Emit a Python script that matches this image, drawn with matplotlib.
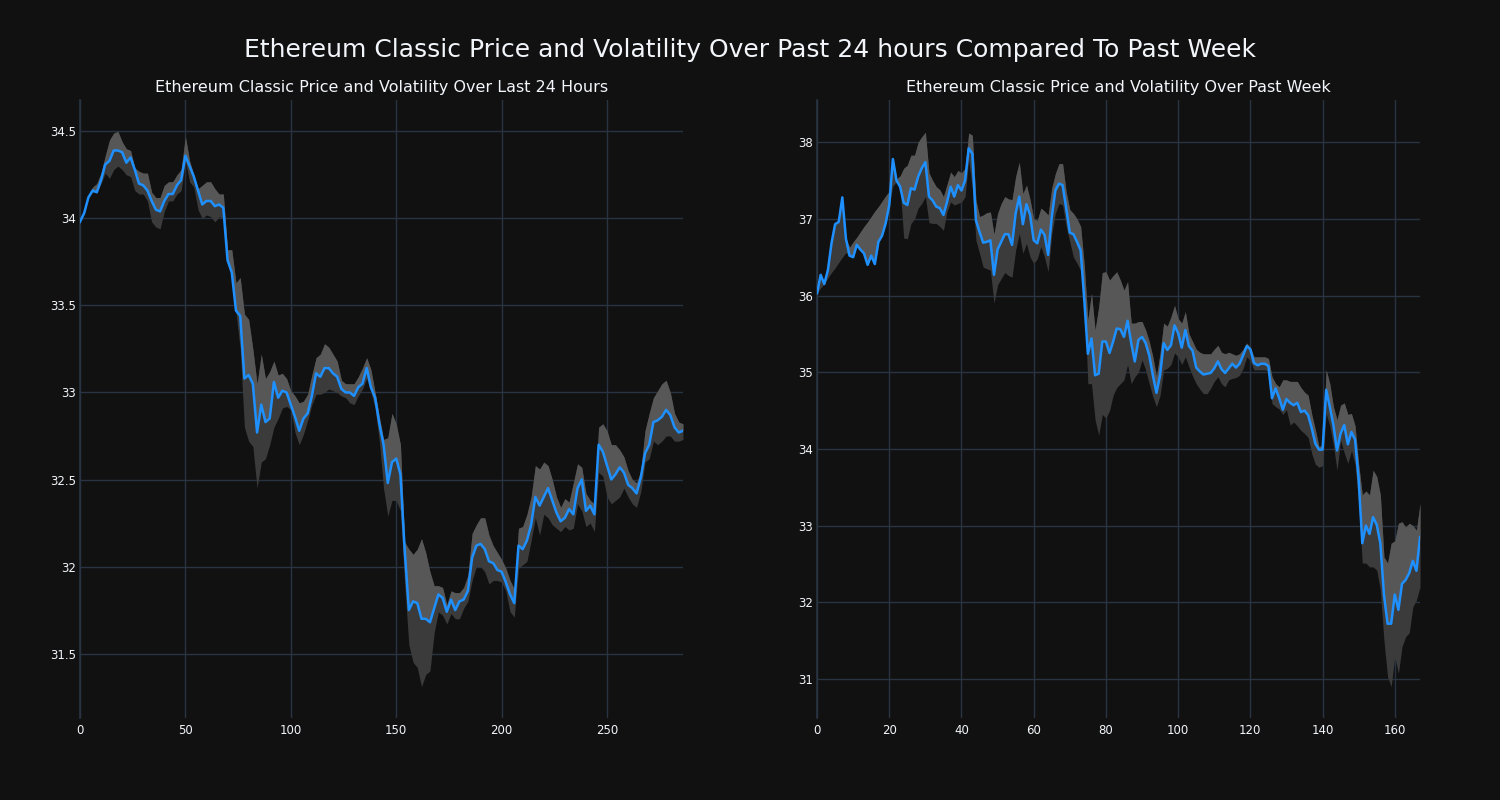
import numpy as np
import matplotlib
matplotlib.use("Agg")
import matplotlib.pyplot as plt
from matplotlib.ticker import FuncFormatter

# last 24 hours, sampled every 2nd 5-minute step
day_x = np.arange(0, 288, 2)
day_price = [
    33.98, 34.03, 34.12, 34.16, 34.15, 34.22, 34.31, 34.33, 34.39, 34.39,
    34.38, 34.32, 34.35, 34.28, 34.20, 34.19, 34.16, 34.10, 34.05, 34.04,
    34.10, 34.14, 34.14, 34.19, 34.22, 34.36, 34.30, 34.24, 34.16, 34.08,
    34.10, 34.10, 34.07, 34.08, 34.06, 33.76, 33.69, 33.47, 33.44, 33.08,
    33.10, 33.05, 32.77, 32.93, 32.83, 32.85, 33.06, 32.97, 33.01, 33.00,
    32.93, 32.86, 32.78, 32.85, 32.88, 32.98, 33.11, 33.09, 33.14, 33.14,
    33.11, 33.09, 33.02, 33.00, 33.00, 32.98, 33.03, 33.05, 33.14, 33.03,
    32.97, 32.82, 32.70, 32.48, 32.60, 32.62, 32.53, 32.10, 31.75, 31.80,
    31.79, 31.70, 31.70, 31.68, 31.76, 31.84, 31.82, 31.74, 31.81, 31.75,
    31.80, 31.81, 31.86, 32.05, 32.12, 32.13, 32.10, 32.03, 32.02, 31.98,
    31.97, 31.91, 31.84, 31.79, 32.12, 32.10, 32.15, 32.24, 32.40, 32.35,
    32.40, 32.45, 32.38, 32.31, 32.26, 32.28, 32.33, 32.30, 32.45, 32.50,
    32.32, 32.35, 32.30, 32.70, 32.66, 32.58, 32.50, 32.53, 32.57, 32.54,
    32.47, 32.45, 32.42, 32.51, 32.65, 32.70, 32.83, 32.84, 32.86, 32.90,
    32.87, 32.80, 32.77, 32.78,
]
day_upper = [
    33.98, 34.03, 34.13, 34.18, 34.20, 34.26, 34.36, 34.45, 34.49, 34.50,
    34.44, 34.40, 34.39, 34.29, 34.27, 34.26, 34.26, 34.15, 34.12, 34.12,
    34.19, 34.21, 34.21, 34.25, 34.28, 34.47, 34.33, 34.25, 34.17, 34.19,
    34.21, 34.21, 34.17, 34.14, 34.14, 33.82, 33.82, 33.63, 33.66, 33.45,
    33.42, 33.25, 33.05, 33.22, 33.08, 33.12, 33.18, 33.10, 33.11, 33.08,
    33.01, 32.98, 32.94, 32.95, 32.99, 33.10, 33.20, 33.22, 33.28, 33.26,
    33.22, 33.18, 33.07, 33.05, 33.05, 33.05, 33.09, 33.14, 33.20, 33.13,
    33.00, 32.86, 32.73, 32.74, 32.88, 32.82, 32.70, 32.14, 32.10, 32.07,
    32.10, 32.16, 32.08, 31.97, 31.89, 31.89, 31.88, 31.78, 31.86, 31.85,
    31.85, 31.88, 31.95, 32.19, 32.24, 32.28, 32.28, 32.18, 32.12, 32.08,
    32.04, 31.99, 31.92, 31.87, 32.22, 32.23, 32.30, 32.40, 32.58, 32.56,
    32.60, 32.58, 32.50, 32.40, 32.34, 32.39, 32.37, 32.48, 32.59, 32.57,
    32.42, 32.38, 32.36, 32.80, 32.82, 32.78, 32.70, 32.70, 32.67, 32.63,
    32.55, 32.50, 32.48, 32.55, 32.78, 32.88, 32.97, 33.01, 33.05, 33.07,
    33.00, 32.88, 32.83, 32.82,
]
day_lower = [
    33.98, 34.03, 34.12, 34.15, 34.15, 34.20, 34.26, 34.23, 34.28, 34.30,
    34.28, 34.25, 34.24, 34.16, 34.14, 34.14, 34.10, 33.98, 33.95, 33.94,
    34.04, 34.10, 34.10, 34.14, 34.16, 34.33, 34.21, 34.18, 34.05, 34.00,
    34.02, 34.01, 33.98, 34.01, 34.00, 33.74, 33.66, 33.46, 33.25, 32.80,
    32.72, 32.69, 32.45, 32.60, 32.62, 32.70, 32.80, 32.85, 32.91, 32.92,
    32.90, 32.77, 32.70, 32.76, 32.84, 32.93, 32.99, 32.99, 33.00, 33.02,
    33.01, 33.00, 32.98, 32.97, 32.94, 32.93, 32.98, 33.02, 33.08, 33.00,
    32.91, 32.72, 32.45, 32.29, 32.38, 32.38, 32.32, 31.90, 31.55, 31.45,
    31.42, 31.31, 31.38, 31.40, 31.62, 31.74, 31.72, 31.67, 31.73, 31.70,
    31.70, 31.76, 31.80, 31.92, 32.00, 32.00, 31.97, 31.90, 31.92, 31.92,
    31.91, 31.86, 31.74, 31.71, 31.99, 32.01, 32.03, 32.15, 32.28, 32.18,
    32.30, 32.28, 32.24, 32.22, 32.20, 32.23, 32.21, 32.22, 32.36, 32.32,
    32.23, 32.25, 32.20, 32.54, 32.52, 32.40, 32.36, 32.38, 32.40, 32.45,
    32.40, 32.36, 32.34, 32.43, 32.60, 32.62, 32.72, 32.70, 32.72, 32.75,
    32.75, 32.72, 32.72, 32.73,
]

# past week, hourly
week_x = np.arange(168)
week_price = [
    36.03, 36.27, 36.15, 36.33, 36.68, 36.93, 36.96, 37.28, 36.74, 36.52,
    36.50, 36.66, 36.60, 36.55, 36.40, 36.52, 36.41, 36.70, 36.78, 36.94,
    37.18, 37.78, 37.50, 37.42, 37.21, 37.18, 37.40, 37.38, 37.55, 37.66,
    37.74, 37.29, 37.24, 37.16, 37.14, 37.05, 37.22, 37.42, 37.29, 37.44,
    37.37, 37.50, 37.92, 37.85, 36.98, 36.83, 36.69, 36.70, 36.72, 36.27,
    36.60, 36.70, 36.80, 36.80, 36.66, 37.07, 37.29, 36.93, 37.19, 37.05,
    36.72, 36.68, 36.86, 36.79, 36.53, 37.02, 37.37, 37.46, 37.44, 37.14,
    36.82, 36.80, 36.70, 36.59, 35.95, 35.24, 35.44, 34.96, 34.98, 35.40,
    35.40, 35.25, 35.40, 35.57, 35.56, 35.46, 35.67, 35.38, 35.14, 35.42,
    35.46, 35.38, 35.22, 34.96, 34.73, 34.96, 35.38, 35.29, 35.35, 35.61,
    35.51, 35.32, 35.55, 35.34, 35.28, 35.06, 35.01, 34.97, 34.98, 34.99,
    35.05, 35.14, 35.04, 34.99, 35.05, 35.11, 35.06, 35.11, 35.22, 35.34,
    35.30, 35.12, 35.09, 35.11, 35.11, 35.08, 34.66, 34.79, 34.66, 34.51,
    34.65, 34.60, 34.57, 34.60, 34.48, 34.50, 34.44, 34.27, 34.07, 33.99,
    33.99, 34.77, 34.55, 34.31, 33.98, 34.20, 34.31, 34.06, 34.22, 34.12,
    33.60, 32.77, 33.00, 32.89, 33.11, 33.01, 32.77, 32.10, 31.72, 31.72,
    32.10, 31.90, 32.24, 32.29, 32.38, 32.54, 32.41, 32.85,
]
week_upper = [
    36.03, 36.27, 36.16, 36.33, 36.68, 36.93, 36.96, 37.28, 36.74, 36.63,
    36.70, 36.76, 36.83, 36.90, 36.96, 37.03, 37.10, 37.16, 37.23, 37.30,
    37.36, 37.78, 37.52, 37.56, 37.66, 37.70, 37.83, 37.83, 38.00, 38.07,
    38.13, 37.60, 37.50, 37.42, 37.38, 37.29, 37.45, 37.61, 37.55, 37.63,
    37.60, 37.66, 38.12, 38.09, 37.24, 37.03, 37.05, 37.08, 37.09, 36.80,
    37.07, 37.20, 37.29, 37.26, 37.25, 37.55, 37.74, 37.33, 37.44, 37.25,
    37.00, 36.98, 37.14, 37.10, 37.05, 37.40, 37.59, 37.72, 37.72, 37.35,
    37.12, 37.07, 37.00, 36.90, 36.40, 35.68, 36.03, 35.55, 35.85, 36.30,
    36.31, 36.20, 36.26, 36.31, 36.20, 36.07, 36.18, 35.64, 35.64, 35.66,
    35.66, 35.55, 35.40, 35.20, 34.94, 35.25, 35.64, 35.60, 35.72, 35.87,
    35.70, 35.64, 35.79, 35.50, 35.40, 35.30, 35.26, 35.24, 35.24, 35.24,
    35.30, 35.35, 35.26, 35.24, 35.26, 35.24, 35.22, 35.24, 35.30, 35.38,
    35.32, 35.20, 35.20, 35.20, 35.20, 35.18, 34.94, 34.85, 34.81, 34.90,
    34.90, 34.88, 34.88, 34.88, 34.80, 34.74, 34.70, 34.45, 34.25, 34.03,
    34.05, 35.03, 34.85, 34.55, 34.38, 34.57, 34.60, 34.45, 34.46, 34.30,
    33.80, 33.40, 33.45, 33.40, 33.72, 33.64, 33.40, 32.59, 32.51, 32.77,
    32.80, 33.03, 33.05, 32.98, 33.03, 33.00, 32.94, 33.29,
]
week_lower = [
    36.03, 36.10, 36.15, 36.23, 36.30, 36.36, 36.43, 36.50, 36.56, 36.52,
    36.50, 36.66, 36.60, 36.55, 36.40, 36.52, 36.41, 36.70, 36.78, 36.94,
    37.18, 37.43, 37.48, 37.42, 36.75, 36.74, 36.94, 37.00, 37.14, 37.20,
    37.29, 36.95, 36.94, 36.94, 36.90, 36.85, 37.10, 37.22, 37.18, 37.20,
    37.22, 37.29, 37.77, 37.40, 36.72, 36.55, 36.37, 36.35, 36.33, 35.90,
    36.14, 36.22, 36.30, 36.26, 36.24, 36.59, 36.81, 36.55, 36.68, 36.50,
    36.42, 36.48, 36.64, 36.50, 36.31, 36.80, 37.07, 37.20, 37.18, 36.90,
    36.70, 36.50, 36.42, 36.33, 35.98, 34.85, 34.85, 34.38, 34.18, 34.45,
    34.40, 34.50, 34.70, 34.80, 34.85, 34.90, 35.10, 34.85, 34.94, 35.00,
    35.16, 35.03, 34.85, 34.68, 34.55, 34.70, 35.03, 35.05, 35.10, 35.25,
    35.20, 35.10, 35.20, 35.07, 34.95, 34.85, 34.78, 34.72, 34.72, 34.79,
    34.88, 34.94, 34.85, 34.81, 34.90, 34.92, 34.93, 34.96, 35.05, 35.20,
    35.15, 35.03, 35.03, 35.03, 35.03, 35.02, 34.59, 34.55, 34.52, 34.45,
    34.51, 34.31, 34.35, 34.30, 34.24, 34.20, 34.15, 33.94, 33.80, 33.76,
    33.78, 34.46, 34.30, 34.05, 33.72, 34.11, 33.95, 33.81, 33.98, 33.80,
    33.30, 32.51, 32.51, 32.46, 32.46, 32.42, 32.16, 31.50, 31.03, 30.90,
    31.29, 31.07, 31.42, 31.55, 31.60, 31.94, 32.03, 32.20,
]

BG = "#111111"
GRID = "#283442"
TXT = "#f2f5fa"


def draw_panel(ax, x, price, upper, lower, title, xticks, yticks, xlim, ylim):
    price = np.array(price)
    upper = np.array(upper)
    lower = np.array(lower)
    ax.set_facecolor(BG)
    ax.fill_between(x, lower, upper, color="#3b3b3b", linewidth=0, zorder=2)
    ax.fill_between(x, price, upper, where=upper >= price, interpolate=True,
                    color="#575757", linewidth=0, zorder=3)
    ax.plot(x, price, color="#1E90FF", linewidth=1.8, zorder=4)
    ax.set_title(title, color=TXT, fontsize=11.5, pad=6)
    ax.set_xlim(*xlim)
    ax.set_ylim(*ylim)
    ax.set_xticks(xticks)
    ax.set_yticks(yticks)
    ax.yaxis.set_major_formatter(FuncFormatter(lambda v, p: f"{v:g}"))
    ax.grid(True, color=GRID, linewidth=1, zorder=0)
    ax.set_axisbelow(True)
    for side in ["top", "right", "bottom"]:
        ax.spines[side].set_visible(False)
    ax.spines["left"].set_color(GRID)
    ax.spines["left"].set_linewidth(1.2)
    ax.tick_params(colors=TXT, labelsize=8.5, length=0)
    ax.tick_params(axis="y", pad=3)
    ax.tick_params(axis="x", pad=4)


fig = plt.figure(figsize=(15, 8), dpi=100, facecolor=BG)
ax1 = fig.add_axes([0.0533, 0.1025, 0.4020, 0.7725])
ax2 = fig.add_axes([0.5447, 0.1025, 0.4020, 0.7725])

draw_panel(ax1, day_x, day_price, day_upper, day_lower,
           "Ethereum Classic Price and Volatility Over Last 24 Hours",
           [0, 50, 100, 150, 200, 250], [31.5, 32, 32.5, 33, 33.5, 34, 34.5],
           (0, 286), (31.13, 34.68))
draw_panel(ax2, week_x, week_price, week_upper, week_lower,
           "Ethereum Classic Price and Volatility Over Past Week",
           [0, 20, 40, 60, 80, 100, 120, 140, 160], [31, 32, 33, 34, 35, 36, 37, 38],
           (0, 167), (30.49, 38.55))

fig.suptitle("Ethereum Classic Price and Volatility Over Past 24 hours Compared To Past Week",
             color=TXT, fontsize=18, y=0.9375, va="center")

fig.savefig("out.png", dpi=100, facecolor=BG)
